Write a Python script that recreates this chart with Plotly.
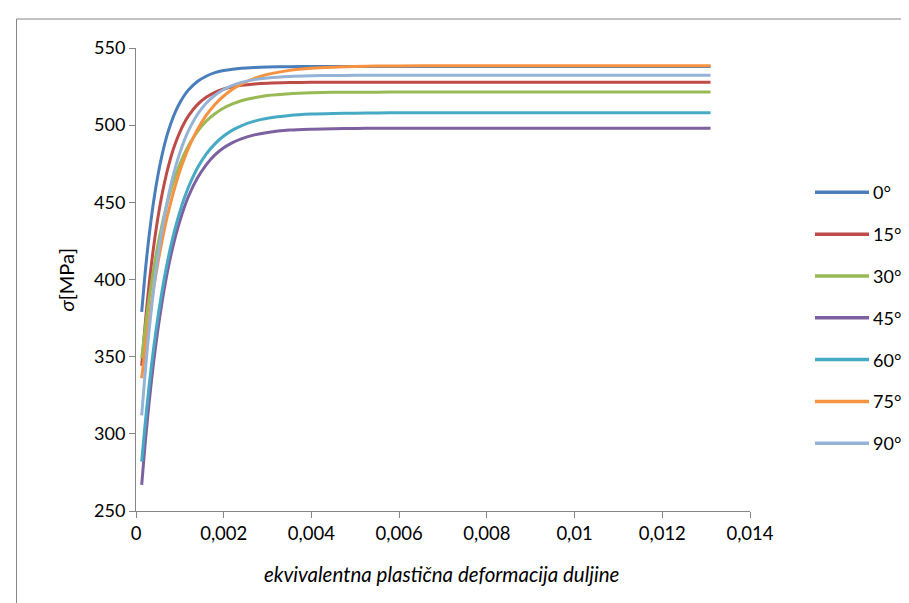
import plotly.graph_objects as go

# strain values (x) shared by all series
strain = [0.00013, 0.0002, 0.00025, 0.0003, 0.0004, 0.0005, 0.0006, 0.0007, 0.0008, 0.0009,
          0.001, 0.0011, 0.0012, 0.0014, 0.0016, 0.0018, 0.002, 0.0022, 0.0024, 0.0027,
          0.003, 0.0035, 0.004, 0.0045, 0.005, 0.0055, 0.006, 0.007, 0.008, 0.01, 0.0131]

s0 = [379, 401.7, 415.9, 428.6, 450.2, 467.6, 481.4, 492.7, 501.6, 508.8,
      514.5, 519.2, 522.9, 528.3, 531.7, 534.0, 535.4, 536.3, 536.9, 537.4,
      537.7, 537.9, 538, 538, 538, 538, 538, 538, 538, 538, 538]
s15 = [344, 368.1, 383.2, 397.0, 420.7, 440.1, 456.0, 469.0, 479.7, 488.4,
       495.5, 501.4, 506.2, 513.3, 518.1, 521.3, 523.4, 524.9, 525.8, 526.7,
       527.2, 527.6, 527.8, 527.8, 527.8, 527.8, 527.8, 527.8, 527.8, 527.8, 527.8]
s30 = [349, 366.2, 377.4, 387.8, 406.4, 422.5, 436.3, 448.2, 458.4, 467.2,
       474.7, 481.2, 486.8, 495.8, 502.5, 507.4, 511.1, 513.8, 515.8, 517.8,
       519.2, 520.4, 521.0, 521.3, 521.4, 521.4, 521.5, 521.5, 521.5, 521.5, 521.5]
s45 = [267, 290.8, 306.2, 320.6, 346.0, 367.7, 386.4, 402.6, 416.2, 428.0,
       437.9, 446.6, 454.1, 465.7, 474.3, 480.7, 485.3, 488.7, 491.1, 493.7,
       495.3, 496.8, 497.4, 497.7, 497.9, 498, 498, 498, 498, 498, 498]
s60 = [282, 303.9, 318.1, 331.3, 355.2, 375.8, 393.6, 409.0, 422.5, 434.0,
       444.0, 452.6, 460.1, 472.2, 481.2, 487.9, 493.0, 496.8, 499.6, 502.6,
       504.5, 506.3, 507.2, 507.6, 507.8, 507.9, 508, 508, 508, 508, 508]
s75 = [336, 353.0, 364.2, 374.7, 393.9, 410.9, 425.9, 439.3, 450.8, 461.1,
       470.3, 478.3, 485.3, 497.1, 506.3, 513.4, 518.9, 523.3, 526.6, 530.3,
       532.9, 535.5, 536.9, 537.6, 538.0, 538.3, 538.4, 538.5, 538.5, 538.5, 538.5]
s90 = [312, 336.7, 352.6, 367.3, 393.1, 414.9, 433.2, 448.7, 461.8, 472.8,
       482.1, 490.0, 496.6, 506.9, 514.2, 519.4, 523.1, 525.8, 527.7, 529.5,
       530.6, 531.6, 532.0, 532.2, 532.3, 532.3, 532.3, 532.3, 532.3, 532.3, 532.3]

series_names = ["0°", "15°", "30°", "45°", "60°", "75°", "90°"]
series_values = [s0, s15, s30, s45, s60, s75, s90]
colors = ["#4A7EBB", "#BE4B48", "#98B954", "#7D60A0", "#46AAC5", "#F69240", "#95B3D7"]

x_tickvals = [0, 0.002, 0.004, 0.006, 0.008, 0.01, 0.012, 0.014]
x_ticktext = ["0", "0,002", "0,004", "0,006", "0,008", "0,01", "0,012", "0,014"]
y_tickvals = [250, 300, 350, 400, 450, 500, 550]
y_ticktext = ["250", "300", "350", "400", "450", "500", "550"]

FONT = "Lato"
AX = "#868686"

W, H = 909, 603
L, R, T, B = 128, 167, 40, 100
pw, ph = W - L - R, H - T - B

def px(xp):
    return (xp - L) / pw

def py(yp):
    return (H - B - yp) / ph

fig = go.Figure()
for name, vals, c in zip(series_names, series_values, colors):
    fig.add_trace(go.Scatter(x=strain, y=vals, mode="lines", name=name,
                             line=dict(color=c, width=3, shape="spline", smoothing=0.8),
                             showlegend=False))

shapes = []
annotations = []
# chart frame
shapes.append(dict(type="rect", xref="paper", yref="paper",
                   x0=px(8.5), x1=px(W + 20), y0=py(H + 20), y1=py(11),
                   line=dict(color=AX, width=1), fillcolor="rgba(0,0,0,0)", layer="below"))
# legend
for i, (name, c) in enumerate(zip(series_names, colors)):
    yy = 184.3 + i * 41.83
    shapes.append(dict(type="line", xref="paper", yref="paper",
                       x0=px(807), x1=px(861), y0=py(yy), y1=py(yy),
                       line=dict(color=c, width=3.5)))
    annotations.append(dict(xref="paper", yref="paper", x=px(863), y=py(yy),
                            text=name, showarrow=False, xanchor="left", yanchor="middle",
                            font=dict(family=FONT, size=18, color="#000")))
# axis titles
annotations.append(dict(xref="paper", yref="paper", x=px(57.5), y=py(272),
                        text="<i>σ</i>[MPa]", textangle=-90, showarrow=False,
                        xanchor="center", yanchor="middle",
                        font=dict(family=FONT, size=20, color="#000")))
annotations.append(dict(xref="paper", yref="paper", x=px(434), y=py(566),
                        text="<i>ekvivalentna plastična deformacija duljine</i>",
                        showarrow=False, xanchor="center", yanchor="middle",
                        font=dict(family=FONT, size=20.5, color="#000")))

fig.update_layout(
    width=W, height=H,
    margin=dict(l=L, r=R, t=T, b=B, pad=0),
    paper_bgcolor="white", plot_bgcolor="white",
    showlegend=False,
    shapes=shapes, annotations=annotations,
    font=dict(family=FONT, size=18, color="#000"),
    xaxis=dict(range=[0, 0.014], tickvals=x_tickvals, ticktext=x_ticktext,
               showgrid=False, zeroline=False, showline=True, linecolor=AX, linewidth=1,
               ticks="outside", ticklen=6, tickcolor=AX, tickwidth=1,
               tickfont=dict(family=FONT, size=18.5, color="#000")),
    yaxis=dict(range=[250, 550], tickvals=y_tickvals, ticktext=y_ticktext,
               showgrid=False, zeroline=False, showline=True, linecolor=AX, linewidth=1,
               ticks="outside", ticklen=6, tickcolor=AX, tickwidth=1,
               tickfont=dict(family=FONT, size=18, color="#000")),
)

fig.write_html("out.html")
